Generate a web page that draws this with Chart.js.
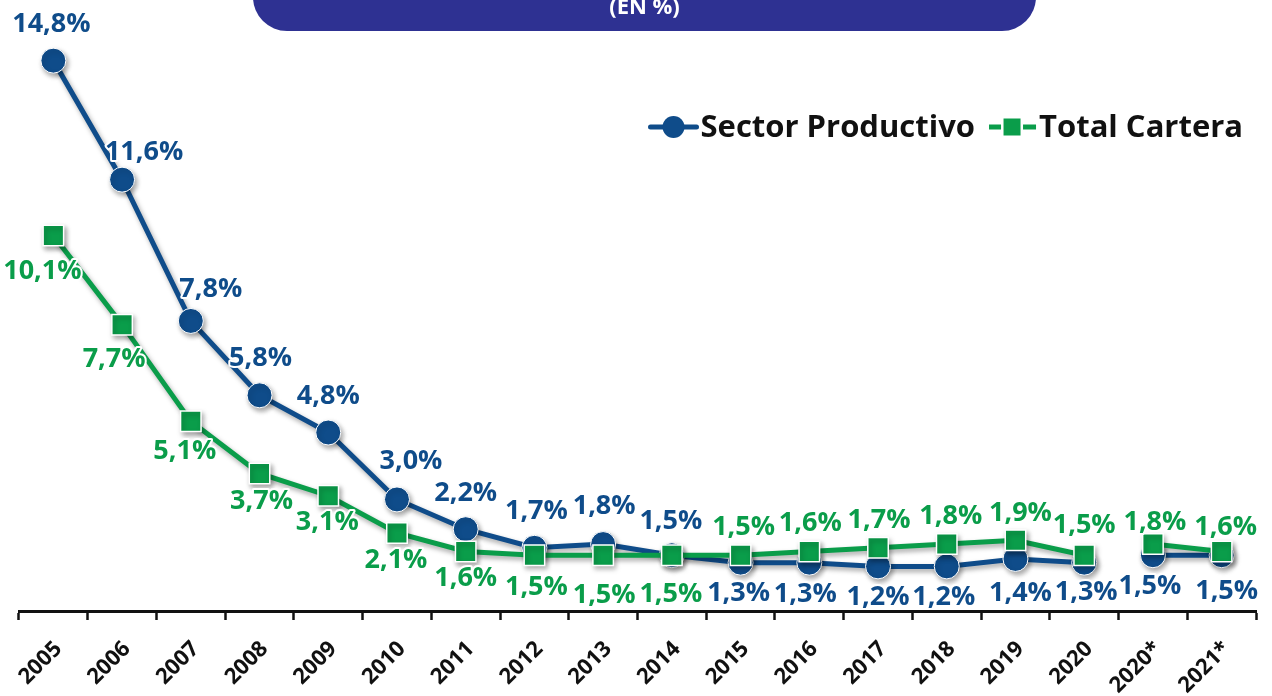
<!DOCTYPE html>
<html><head><meta charset="utf-8">
<script src="https://cdn.jsdelivr.net/npm/chart.js@4/dist/chart.umd.min.js"></script>
<style>
html,body{margin:0;padding:0;background:#fff;overflow:hidden}
#wrap{position:relative;width:1272px;height:696px}
#banner{position:absolute;left:253px;top:-40px;width:783px;height:71px;background:#2e3192;border-radius:0 0 34px 34px;}
#banner span{position:absolute;left:0;right:0;top:30px;line-height:24px;text-align:center;color:#fff;font:bold 22px "Open Sans",sans-serif}
canvas{position:absolute;left:0;top:0}
</style></head>
<body><div id="wrap"><canvas id="c" width="1272" height="696"></canvas><div id="banner"><span>(EN %)</span></div></div>
<script>
const categories = ['2005','2006','2007','2008','2009','2010','2011','2012','2013','2014','2015','2016','2017','2018','2019','2020','2020*','2021*'];
const sectorProductivo = [14.8,11.6,7.8,5.8,4.8,3.0,2.2,1.7,1.8,1.5,1.3,1.3,1.2,1.2,1.4,1.3,1.5,1.5];
const totalCartera = [10.1,7.7,5.1,3.7,3.1,2.1,1.6,1.5,1.5,1.5,1.5,1.6,1.7,1.8,1.9,1.5,1.8,1.6];
const seriesNames = ['Sector Productivo','Total Cartera'];
const breakAfter = 15; // no connecting line between 2020 and 2020*

const BLUE = '#0f4c8a', GREEN = '#0a9d4a';
const FONT = '"Open Sans", sans-serif';

// label placement relative to each point (dx, dy)
const labelOffsets = [
  [[-2,-36],[22,-27],[20,-32],[1,-37],[0,-36],[14,-38],[0,-36],[2,-36],[1,-38],[-1,-34],
   [-2,31],[-4,32],[0,31],[-3,31],[5,34],[2,30],[-3,31],[5,36]],
  [[-11,36],[-8,35],[-6,30],[2,28],[-1,27],[-1,27],[0,27],[2,32],[1,40],[-1,39],
   [3,-28],[1,-28],[1,-27],[4,-28],[5,-27],[0,-30],[2,-22],[4,-24]]
];

const segColor = ctx => ctx.p0DataIndex === breakAfter ? 'rgba(0,0,0,0)' : undefined;

const plugin = {
  id: 'custom',
  beforeDatasetsDraw(chart){
    const c = chart.ctx; c.save();
    c.shadowColor = 'rgba(0,0,0,0.35)'; c.shadowBlur = 5; c.shadowOffsetX = 2; c.shadowOffsetY = 3;
  },
  afterDatasetsDraw(chart){
    const c = chart.ctx; c.restore();
    c.save();
    c.font = 'bold 27px ' + FONT;
    c.textAlign = 'center'; c.textBaseline = 'middle';
    c.lineJoin = 'round';
    chart.data.datasets.forEach((ds, di) => {
      const meta = chart.getDatasetMeta(di);
      meta.data.forEach((el, i) => {
        const v = ds.data[i]; if (v == null) return;
        const t = v.toFixed(1).replace('.', ',') + '%';
        const [dx, dy] = labelOffsets[di][i];
        c.strokeStyle = '#fff'; c.lineWidth = 4; c.strokeText(t, el.x + dx, el.y + dy);
        c.fillStyle = ds.borderColor; c.fillText(t, el.x + dx, el.y + dy);
      });
    });
    c.restore();
  },
  afterDraw(chart){
    const c = chart.ctx; c.save();
    c.font = 'bold 31px ' + FONT; c.textBaseline = 'middle'; c.textAlign = 'left';
    const y = 127, right = 1243, sym = 50, gap = 12;
    const ds = chart.data.datasets;
    const w0 = c.measureText(ds[0].label).width, w1 = c.measureText(ds[1].label).width;
    let x1 = right - w1 - sym - 2;
    let x0 = x1 - gap - w0 - sym - 2;
    c.strokeStyle = BLUE; c.lineWidth = 5; c.lineCap = 'round';
    c.beginPath(); c.moveTo(x0 + 2, y); c.lineTo(x0 + sym - 2, y); c.stroke();
    c.fillStyle = BLUE; c.beginPath(); c.arc(x0 + sym/2, y, 11, 0, Math.PI*2); c.fill();
    c.fillStyle = '#111'; c.fillText(ds[0].label, x0 + sym + 2, y + 1);
    c.strokeStyle = GREEN; c.lineCap = 'butt';
    c.beginPath(); c.moveTo(x1 + 2, y); c.lineTo(x1 + 14, y); c.moveTo(x1 + 36, y); c.lineTo(x1 + 49, y); c.stroke();
    c.fillStyle = GREEN; c.fillRect(x1 + sym/2 - 8.5, y - 8.5, 17, 17);
    c.fillStyle = '#111'; c.fillText(ds[1].label, x1 + sym + 2, y + 1);
    c.restore();
  }
};

new Chart(document.getElementById('c'), {
  type: 'line',
  data: {
    labels: categories,
    datasets: [
      { label: seriesNames[0], data: sectorProductivo, borderColor: BLUE, backgroundColor: BLUE,
        borderWidth: 5, pointRadius: 12.5, pointHoverRadius: 12.5, pointBackgroundColor: BLUE,
        pointBorderColor: '#fff', pointBorderWidth: 1, tension: 0, order: 2, clip: false,
        segment: { borderColor: segColor } },
      { label: seriesNames[1], data: totalCartera, borderColor: GREEN, backgroundColor: GREEN,
        borderWidth: 5, pointStyle: 'rect', pointRadius: 14.5, pointHoverRadius: 14.5, pointBackgroundColor: GREEN,
        pointBorderColor: '#fff', pointBorderWidth: 1.5, tension: 0, order: 1, clip: false,
        segment: { borderColor: segColor } }
    ]
  },
  options: {
    responsive: false, animation: false, devicePixelRatio: 1,
    layout: { padding: { left: 19, right: 16, top: 13, bottom: 0 } },
    plugins: { legend: { display: false }, tooltip: { enabled: false } },
    scales: {
      x: {
        offset: true,
        grid: { offset: true, drawOnChartArea: false, drawTicks: true, tickLength: 9, tickColor: '#111', tickWidth: 2.5 },
        border: { display: true, color: '#111', width: 3 },
        ticks: { autoSkip: false, maxRotation: 45, minRotation: 45, color: '#111', padding: 16, labelOffset: 5,
                 font: { family: FONT, weight: 'bold', size: 22 } },
        afterFit(s){ s.height = 85; s.paddingLeft = 0; s.paddingRight = 0; }
      },
      y: { display: false, min: 0, max: 16 }
    }
  },
  plugins: [plugin]
});
</script>
</body></html>
